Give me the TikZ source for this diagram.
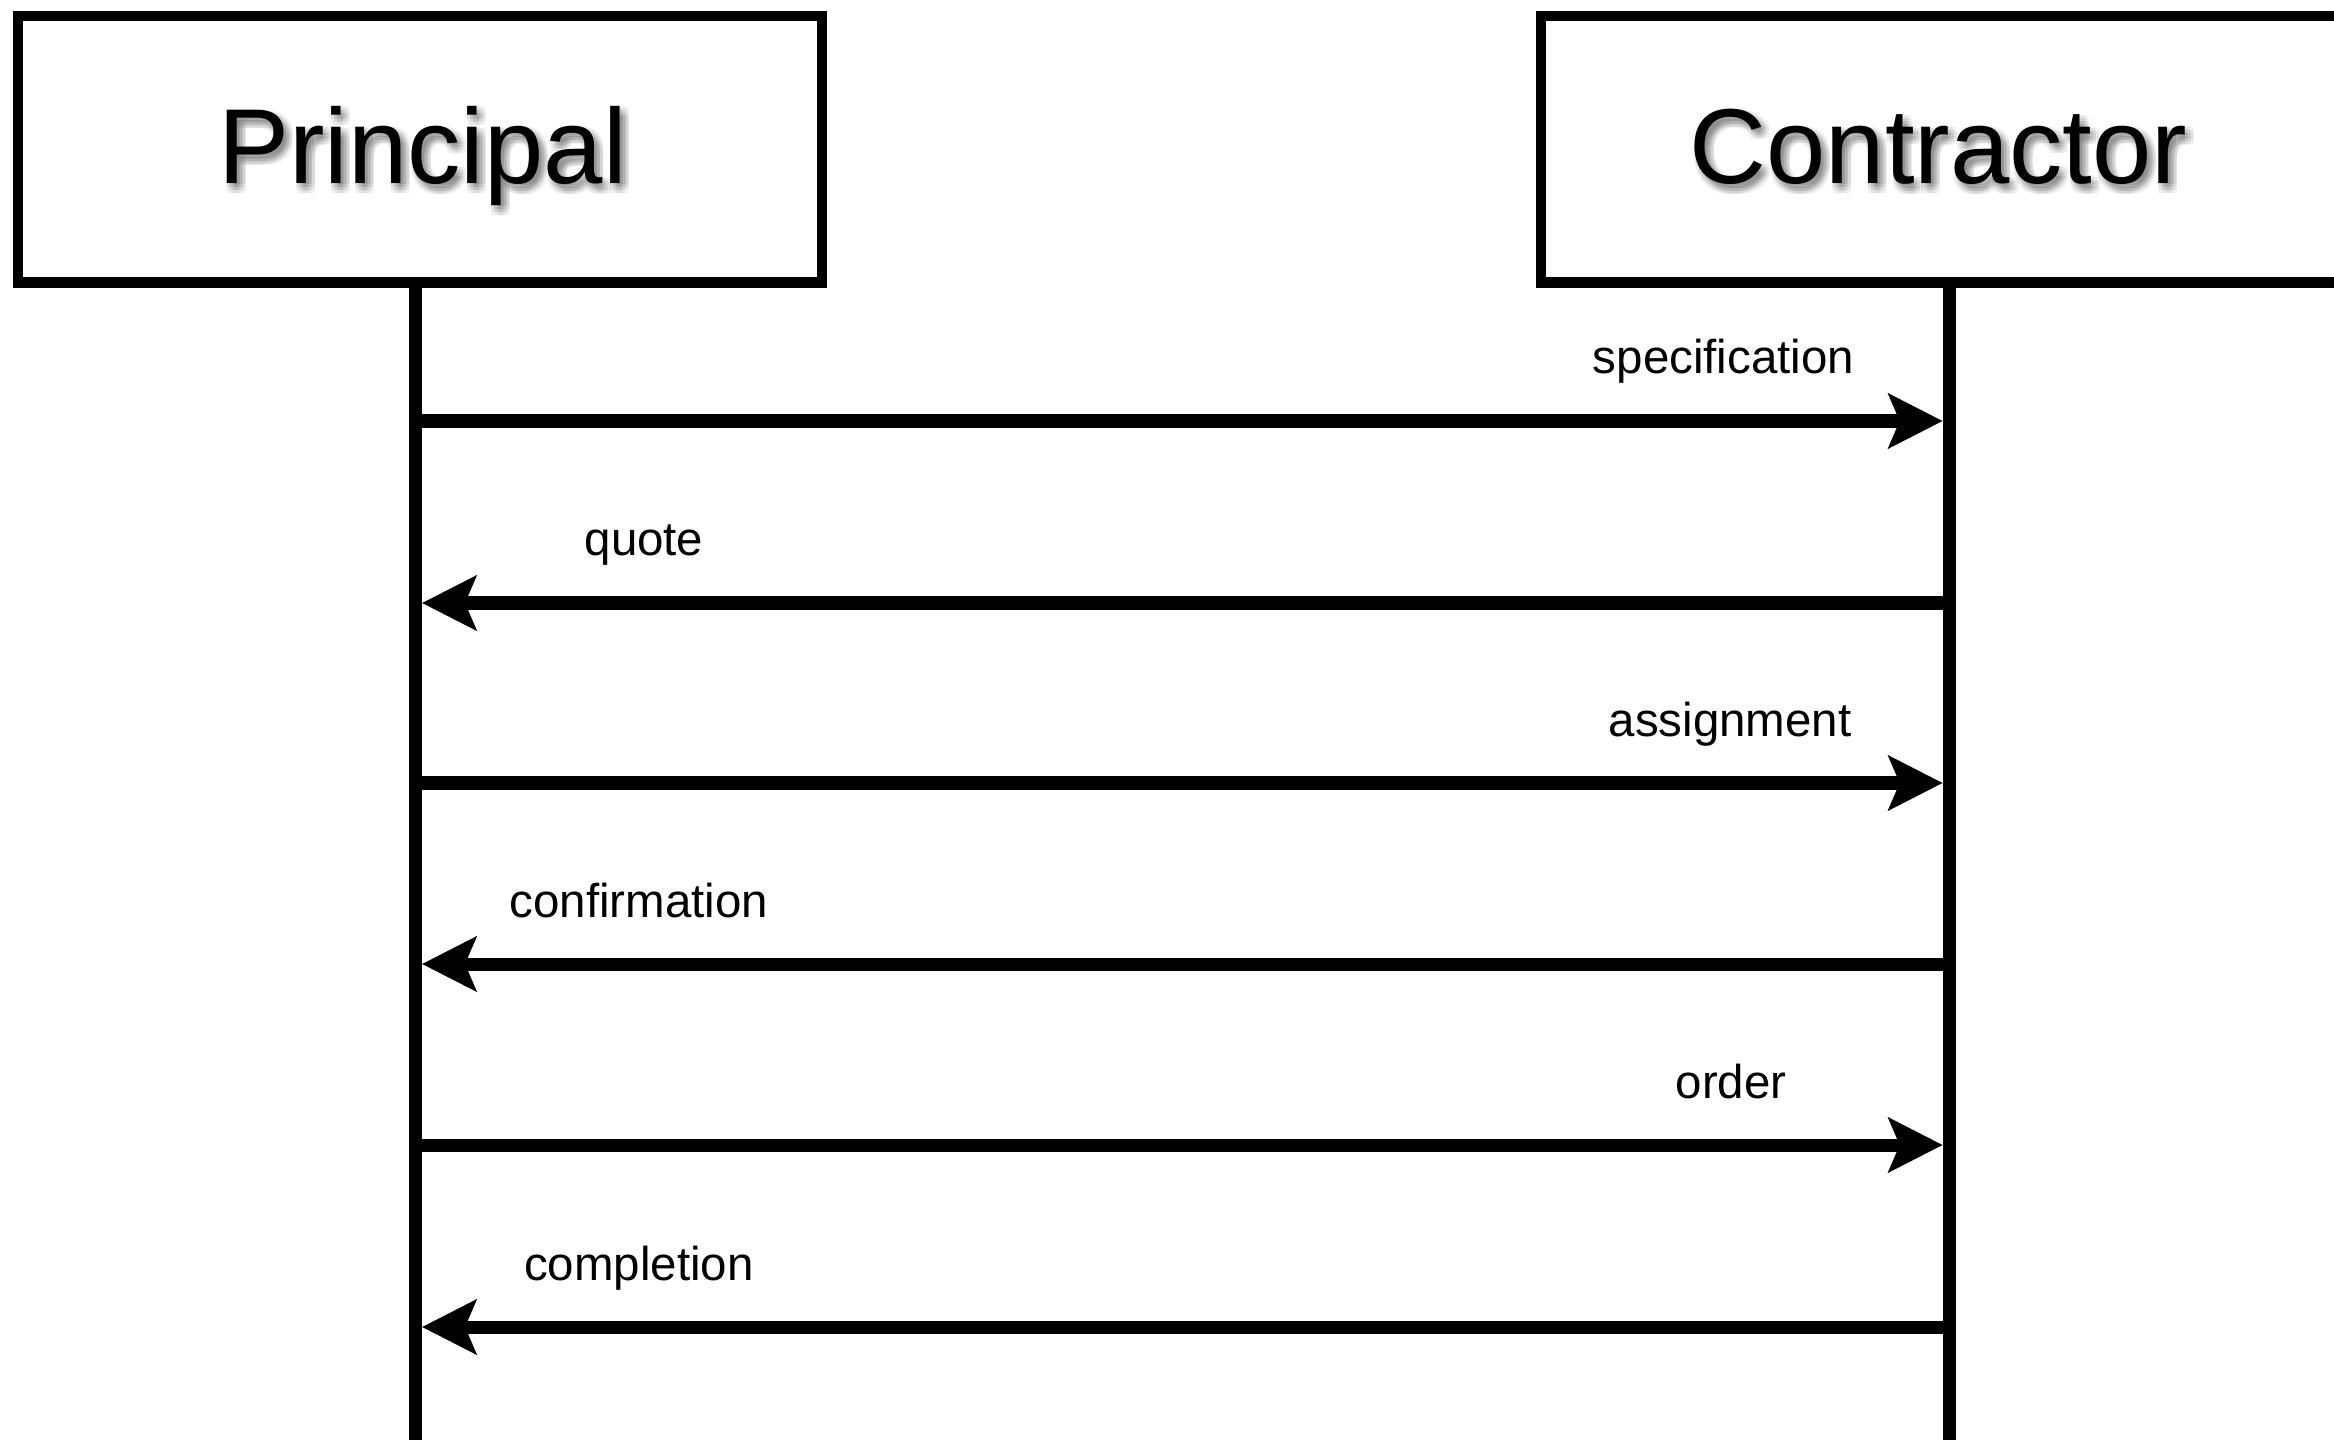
\documentclass[tikz,border=0pt]{standalone}
\usepackage{fontspec}
\setmainfont{Liberation Sans}
\usetikzlibrary{arrows.meta}

\begin{document}
\begin{tikzpicture}[x=0.01cm, y=-0.01cm,
	actor/.style={draw, line width=0.105cm, minimum width=8.04cm, minimum height=2.665cm, inner sep=0pt},
	actor_name/.style={anchor=base, inner sep=0pt, font=\fontsize{30.3pt}{31pt}\selectfont},
	lifeline/.style={line width=0.13cm},
	msg/.style={line width=0.13cm, -{Stealth[length=0.54cm, width=0.54cm, inset=0.11cm]}},
	msg_label/.style={anchor=base, inner sep=0pt, font=\fontsize{13.5pt}{14pt}\selectfont}]
	\useasboundingbox (0,0) rectangle (2334,1440);

	%% ACTORS
	% soft drop shadow behind the names
	\foreach \dx in {0,3,6,9}{
		\foreach \dy in {1,4,7,10}{
			\node[actor_name, opacity=0.045](shadow_p_\dx_\dy) at (422.5+\dx, 184+\dy){Principal};
			\node[actor_name, opacity=0.045](shadow_c_\dx_\dy) at (1938.5+\dx, 184+\dy){Contractor};
		}
	}
	\node[actor](principal) at (420, 149.25){};
	\node[actor](contractor) at (1943, 149.25){};
	\node[actor_name](principal_name) at (422.5, 184){Principal};
	\node[actor_name](contractor_name) at (1938.5, 184){Contractor};

	% lifelines
	\coordinate (p_top) at (415.3, 282.5);
	\coordinate (p_bottom) at (415.3, 1450);
	\coordinate (c_top) at (1949, 282.5);
	\coordinate (c_bottom) at (1949, 1450);

	\draw[lifeline] (p_top) -- (p_bottom);
	\draw[lifeline] (c_top) -- (c_bottom);

	%% MESSAGES
	\coordinate (spec_from) at (415.3, 421);
	\coordinate (spec_to) at (1942.7, 421);
	\coordinate (quote_from) at (1955, 603);
	\coordinate (quote_to) at (422, 603);
	\coordinate (assign_from) at (415.3, 783);
	\coordinate (assign_to) at (1942.7, 783);
	\coordinate (confirm_from) at (1949, 964);
	\coordinate (confirm_to) at (422, 964);
	\coordinate (order_from) at (415.3, 1145);
	\coordinate (order_to) at (1942.7, 1145);
	\coordinate (complete_from) at (1949, 1327);
	\coordinate (complete_to) at (422, 1327);

	\draw[msg] (spec_from) -- (spec_to);
	\draw[msg] (quote_from) -- (quote_to);
	\draw[msg] (assign_from) -- (assign_to);
	\draw[msg] (confirm_from) -- (confirm_to);
	\draw[msg] (order_from) -- (order_to);
	\draw[msg] (complete_from) -- (complete_to);

	% labels above the arrows
	\node[msg_label](spec_label) at (1723.5, 374){specification};
	\node[msg_label](quote_label) at (644, 556){quote};
	\node[msg_label](assign_label) at (1730, 736){assignment};
	\node[msg_label](confirm_label) at (639, 917){confirmation};
	\node[msg_label](order_label) at (1731, 1098){order};
	\node[msg_label](complete_label) at (639, 1280){completion};

\end{tikzpicture}
\end{document}
